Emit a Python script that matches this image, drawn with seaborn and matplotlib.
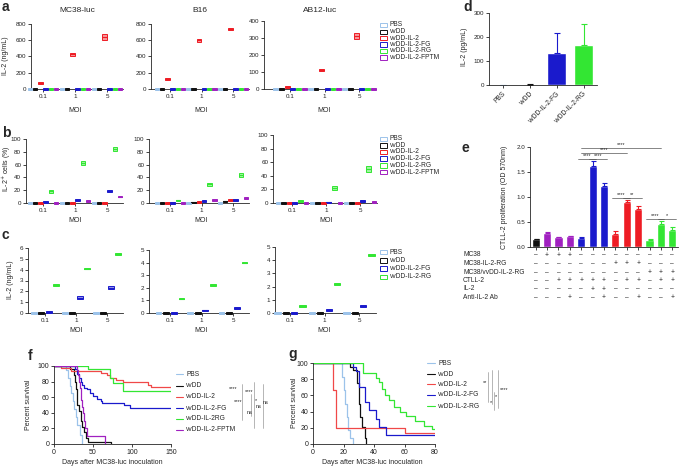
import numpy as np
import pandas as pd
import matplotlib
matplotlib.use("Agg")
import matplotlib.pyplot as plt
import matplotlib.transforms as mtransforms
from matplotlib.lines import Line2D
from matplotlib.patches import Rectangle
from matplotlib.colors import to_rgb
import seaborn as sns

W, H = 680, 466

# ---------------- data ----------------
moi = ["0.1", "1", "5"]
groups_ab = ["PBS", "vvDD", "vvDD-IL-2", "vvDD-IL-2-FG", "vvDD-IL-2-RG", "vvDD-IL-2-FPTM"]
groups_c = ["PBS", "vvDD", "vvDD-IL-2-FG", "vvDD-IL-2-RG"]

colors = {
    "PBS": "#9cc3ea",
    "vvDD": "#111111",
    "vvDD-IL-2": "#ee1c24",
    "vvDD-IL-2-FG": "#1a1acc",
    "vvDD-IL-2-RG": "#33e633",
    "vvDD-IL-2-FPTM": "#a020c0",
}

# panel a: IL-2 (ng/mL), rows = groups_ab, cols = moi
a_mc38 = [[1, 1, 1], [1, 1, 1], [78, 428, 640], [1, 1, 1], [2, 3, 4], [1, 1, 1]]
a_mc38_sd = [[0, 0, 0], [0, 0, 0], [8, 18, 35], [0, 0, 0], [0, 0, 0], [0, 0, 0]]
a_b16 = [[1, 1, 1], [1, 1, 1], [122, 598, 735], [1, 1, 1], [2, 3, 3], [1, 1, 1]]
a_b16_sd = [[0, 0, 0], [0, 0, 0], [10, 22, 15], [0, 0, 0], [0, 0, 0], [0, 0, 0]]
a_ab12 = [[0.5, 0.5, 0.5], [0.5, 0.5, 0.5], [10, 110, 312], [0.5, 0.5, 0.5], [1, 2, 2], [0.5, 0.5, 0.5]]
a_ab12_sd = [[0, 0, 0], [0, 0, 0], [3, 5, 15], [0, 0, 0], [0, 0, 0], [0, 0, 0]]

# panel b: IL-2+ cells (%)
b_mc38 = [[0.2, 0.2, 0.2], [0.2, 0.2, 0.3], [0.3, 0.3, 0.4], [1, 5, 19], [18, 62, 85], [0.5, 3.5, 10]]
b_mc38_sd = [[0, 0, 0], [0, 0, 0], [0, 0, 0], [0.6, 0.6, 0.8], [2, 3, 3], [0.5, 0.6, 1]]
b_b16 = [[0.2, 0.2, 0.2], [0.2, 0.8, 2.5], [0.3, 1.2, 4.5], [0.5, 3, 5], [4, 29, 44], [0.5, 4.5, 8]]
b_b16_sd = [[0, 0, 0], [0, 0.5, 1], [0, 0.6, 1.5], [0.5, 0.6, 0.6], [1, 3, 3], [0.5, 0.6, 0.8]]
b_ab12 = [[0.2, 0.2, 0.2], [0.2, 0.2, 0.3], [0.2, 0.3, 0.3], [0.3, 0.8, 3], [3, 22, 50], [0.3, 0.5, 1]]
b_ab12_sd = [[0, 0, 0], [0, 0, 0], [0, 0, 0], [0, 0.4, 0.6], [1, 3, 4], [0, 0, 0.4]]

# panel c: IL-2 (ng/mL), rows = groups_c
c_mc38 = [[0.02, 0.02, 0.02], [0.03, 0.03, 0.03], [0.12, 1.42, 2.35], [2.55, 4.1, 5.45]]
c_mc38_sd = [[0, 0, 0], [0, 0, 0], [0.05, 0.12, 0.1], [0.04, 0.04, 0.04]]
c_b16 = [[0.02, 0.02, 0.02], [0.02, 0.02, 0.02], [0.02, 0.2, 0.38], [1.15, 2.2, 4.0]]
c_b16_sd = [[0, 0, 0], [0, 0, 0], [0, 0.07, 0.04], [0.05, 0.07, 0.05]]
c_ab12 = [[0.02, 0.02, 0.02], [0.02, 0.02, 0.02], [0.02, 0.22, 0.55], [0.5, 2.2, 4.4]]
c_ab12_sd = [[0, 0, 0], [0, 0, 0], [0, 0.05, 0.08], [0.05, 0.04, 0.05]]

# panel d
d_groups = ["PBS", "vvDD", "vvDD-IL-2-FG", "vvDD-IL-2-RG"]
d_mean = [1, 2, 135, 168]
d_sd = [0.5, 0.5, 80, 88]

# panel e
e_mean = [0.16, 0.29, 0.20, 0.22, 0.19, 1.63, 1.22, 0.27, 0.91, 0.76, 0.15, 0.47, 0.35]
e_sd = [0.01, 0.02, 0.01, 0.01, 0.01, 0.10, 0.06, 0.06, 0.04, 0.06, 0.01, 0.06, 0.06]
e_color_keys = ["vvDD", "vvDD-IL-2-FPTM", "vvDD-IL-2-FPTM", "vvDD-IL-2-FPTM",
                "vvDD-IL-2-FG", "vvDD-IL-2-FG", "vvDD-IL-2-FG",
                "vvDD-IL-2", "vvDD-IL-2", "vvDD-IL-2",
                "vvDD-IL-2-RG", "vvDD-IL-2-RG", "vvDD-IL-2-RG"]
e_rows = ["MC38", "MC38-IL-2-RG", "MC38/vvDD-IL-2-RG", "CTLL-2", "IL-2", "Anti-IL-2 Ab"]
e_signs = ["-+++---------", "-------+++---", "----------+++",
           "--+++++-++-++", "-----++------", "---+--+--+--+"]
# (bar from, bar to, line height, label)
e_sig = [(4, 11, 1.99, "****"), (4, 8, 1.89, "****"), (4, 5, 1.77, "****"), (5, 6, 1.77, "****"),
         (7, 8, 0.99, "****"), (8, 9, 0.99, "**"), (10, 11, 0.56, "****"), (11, 12, 0.56, "*")]

# panel f survival (step change points)
f_groups = ["PBS", "vvDD", "vvDD-IL-2", "vvDD-IL-2-FG", "vvDD-IL-2RG", "vvDD-IL-2-FPTM"]
f_pbs_day = [0, 16, 18, 20, 22, 24, 26, 28, 30, 33, 36]
f_pbs_pct = [100, 95, 85, 75, 65, 55, 45, 35, 25, 12, 0]
f_vvdd_day = [0, 21, 25, 27, 28, 29, 30, 32, 34, 36, 38, 41, 44, 73]
f_vvdd_pct = [100, 96, 88, 80, 70, 60, 50, 42, 30, 22, 15, 8, 3, 0]
f_il2_day = [0, 9, 22, 60, 68, 72, 80, 88, 120, 124, 150]
f_il2_pct = [100, 97, 94, 91, 88, 85, 82, 79, 76, 73, 73]
f_fg_day = [0, 27, 30, 32, 34, 36, 39, 42, 46, 50, 55, 60, 62, 90, 98, 150]
f_fg_pct = [100, 96, 90, 85, 80, 76, 72, 70, 66, 62, 58, 55, 53, 50, 46, 46]
f_rg_day = [0, 44, 72, 76, 88, 150]
f_rg_pct = [100, 96, 84, 78, 68, 68]
f_fptm_day = [0, 29, 31, 32, 33, 34, 35, 36, 37, 38, 40, 42, 66]
f_fptm_pct = [100, 95, 88, 80, 72, 64, 56, 48, 40, 30, 20, 10, 0]

# panel g survival
g_groups = ["PBS", "vvDD", "vvDD-IL-2", "vvDD-IL-2-FG", "vvDD-IL-2-RG"]
g_pbs_day = [0, 19, 20, 21, 22, 23, 24, 26]
g_pbs_pct = [100, 83, 67, 50, 33, 17, 8, 0]
g_vvdd_day = [0, 24, 26, 29, 30, 31, 32, 34, 35]
g_vvdd_pct = [100, 95, 91, 75, 50, 33, 21, 8, 0]
g_il2_day = [0, 13, 15, 60, 80]
g_il2_pct = [100, 67, 20, 14, 14]
g_fg_day = [0, 26, 28, 30, 34, 37, 41, 43, 48, 80]
g_fg_pct = [100, 95, 90, 70, 52, 42, 31, 21, 11, 11]
g_rg_day = [0, 33, 41, 43, 45, 47, 50, 53, 57, 61, 67, 73, 78, 80]
g_rg_pct = [100, 88, 82, 76, 68, 60, 54, 46, 40, 35, 28, 22, 18, 18]

# ---------------- figure ----------------
sns.set_theme(style="ticks")
plt.rcParams["font.family"] = ["Liberation Sans", "DejaVu Sans"]
plt.rcParams["axes.linewidth"] = 0.6

fig = plt.figure(figsize=(W / 100, H / 100), dpi=100)


def px_axes(left, top, right, bottom):
    return fig.add_axes([left / W, 1 - bottom / H, (right - left) / W, (bottom - top) / H])


def ftext(x, y, s, **kw):
    return fig.text(x / W, 1 - y / H, s, **kw)


def style(ax, fs=4.5):
    sns.despine(ax=ax)
    ax.tick_params(length=2, width=0.6, labelsize=fs, pad=1.5, colors="#222222")
    ax.set_xlabel("")
    ax.set_ylabel("")


def light(c, f=0.55):
    r, g, b = to_rgb(c)
    return (r + (1 - r) * f, g + (1 - g) * f, b + (1 - b) * f)


def cat_axes(axis_x, tick0, spacing, top, bottom, ymax, ystep):
    ax = px_axes(axis_x, top, tick0 + 2.5 * spacing, bottom)
    ax.set_xlim(-(tick0 - axis_x) / spacing, 2.5)
    ax.set_ylim(0, ymax)
    ax.set_yticks(np.arange(0, ymax + ystep / 2, ystep))
    ax.set_xticks(range(len(moi)))
    ax.set_xticklabels(moi)
    style(ax)
    return ax


def draw_boxes(ax, means, sds, names, width, step, ymax):
    n = len(names)
    for j, name in enumerate(names):
        off = (j - (n - 1) / 2) * step
        for i in range(len(moi)):
            m = means[j][i]
            s = max(sds[j][i], 0.014 * ymax)
            x = i + off
            ax.bar(x, 2 * s, bottom=m - s, width=width, color=light(colors[name]),
                   edgecolor=colors[name], linewidth=0.7, clip_on=False, zorder=3)
            ax.plot([x - width / 2, x + width / 2], [m, m], color=colors[name],
                    lw=0.8, clip_on=False, zorder=4)


def box_legend(x, ys, names):
    for y, name in zip(ys, names):
        fig.add_artist(Rectangle((x / W, 1 - (y + 2.2) / H), 6.5 / W, 4.4 / H,
                                 transform=fig.transFigure, fill=False,
                                 edgecolor=colors[name], lw=0.7))
        ftext(x + 10, y, name, fontsize=4.8, va="center")


def line_legend(x1, x2, ys, names, cols):
    for y, name, c in zip(ys, names, cols):
        fig.add_artist(Line2D([x1 / W, x2 / W], [1 - y / H] * 2, color=c, lw=0.8,
                              transform=fig.transFigure))
        ftext(x2 + 3, y, name, fontsize=4.8, va="center")


# ---- rows a, b, c ----
row_a = [(a_mc38, a_mc38_sd, (31, 43, 32, 24, 89, 800, 200)),
         (a_b16, a_b16_sd, (151, 170, 31.5, 24, 89, 800, 200)),
         (a_ab12, a_ab12_sd, (264, 290, 34.5, 21, 89, 400, 100))]
row_b = [(b_mc38, b_mc38_sd, (26, 43, 32, 139, 203, 100, 20)),
         (b_b16, b_b16_sd, (149, 170, 31.5, 139, 203, 100, 20)),
         (b_ab12, b_ab12_sd, (273, 292, 34, 135, 203, 100, 20))]
row_c = [(c_mc38, c_mc38_sd, (28, 45, 31, 248, 313, 6, 1)),
         (c_b16, c_b16_sd, (149, 170, 31.5, 250, 313, 5, 1)),
         (c_ab12, c_ab12_sd, (275, 290, 34.5, 247, 313, 5, 1))]
titles = ["MC38-luc", "B16", "AB12-luc"]

for rows, names, width, step, xl_y in [(row_a, groups_ab, 0.14, 0.165, 110),
                                       (row_b, groups_ab, 0.14, 0.165, 220),
                                       (row_c, groups_c, 0.18, 0.24, 330)]:
    for k, (means, sds, geom) in enumerate(rows):
        axis_x, tick0, spacing, top, bottom, ymax, ystep = geom
        ax = cat_axes(axis_x, tick0, spacing, top, bottom, ymax, ystep)
        draw_boxes(ax, means, sds, names, width, step, ymax)
        ftext(tick0 + spacing, xl_y, "MOI", fontsize=5, ha="center", va="center")
        if rows is row_a:
            ftext((axis_x + tick0 + 2.5 * spacing) / 2, 11, titles[k], fontsize=6,
                  ha="center", va="center")

ftext(6, 56, "IL-2 (ng/mL)", fontsize=5, rotation=90, ha="center", va="center")
ftext(7, 169, "IL-2$^{+}$ cells (%)", fontsize=5, rotation=90, ha="center", va="center")
ftext(11, 280, "IL-2 (ng/mL)", fontsize=5, rotation=90, ha="center", va="center")

box_legend(380, [25, 31.7, 38, 44.3, 51, 57.3], groups_ab)
box_legend(380, [139, 145.7, 152, 158.7, 165.3, 172], groups_ab)
box_legend(380, [252, 260.5, 268.5, 277], groups_c)

# ---- panel d ----
ax_d = px_axes(489, 13, 597, 85)
sns.barplot(x=d_groups, y=d_mean, hue=d_groups, palette=colors, legend=False,
            width=0.74, saturation=1, errorbar=None, ax=ax_d)
for i, (m, s) in enumerate(zip(d_mean, d_sd)):
    ax_d.errorbar(i, m, yerr=[[0], [s]], fmt="none", ecolor=colors[d_groups[i]],
                  elinewidth=0.8, capsize=2.5, capthick=0.8)
ax_d.set_ylim(0, 300)
ax_d.set_yticks([0, 100, 200, 300])
ax_d.set_xlim(-0.5, 3.5)
style(ax_d)
ax_d.set_xticks(range(4))
ax_d.set_xticklabels(d_groups, rotation=45, ha="right", rotation_mode="anchor", fontsize=4.8)
ftext(464, 47, "IL-2 (pg/mL)", fontsize=5, rotation=90, ha="center", va="center")

# ---- panel e ----
ax_e = px_axes(530, 147, 678, 247)
e_x = [str(i + 1) for i in range(len(e_mean))]
sns.barplot(x=e_x, y=e_mean, hue=e_x, palette=[colors[k] for k in e_color_keys],
            legend=False, width=0.72, saturation=1, errorbar=None, ax=ax_e)
for i, (m, s) in enumerate(zip(e_mean, e_sd)):
    ax_e.errorbar(i, m, yerr=[[0], [s]], fmt="none", ecolor=colors[e_color_keys[i]],
                  elinewidth=0.8, capsize=1.8, capthick=0.8)
ax_e.set_ylim(0, 2.0)
ax_e.set_yticks([0, 0.5, 1.0, 1.5, 2.0])
ax_e.set_yticklabels(["0.0", "0.5", "1.0", "1.5", "2.0"])
ax_e.set_xlim(-0.5, len(e_mean) - 0.5)
style(ax_e)
ax_e.tick_params(axis="x", labelbottom=False)
for x1, x2, yl, lab in e_sig:
    ax_e.plot([x1 - 0.3, x2 + 0.3] if x2 - x1 == 1 else [x1, x2], [yl, yl],
              color="#555555", lw=0.5, clip_on=False)
    ax_e.text((x1 + x2) / 2, yl + 0.01, lab, fontsize=4, ha="center", va="bottom")
ftext(504, 197, "CTLL-2 proliferation (OD 570nm)", fontsize=5, rotation=90,
      ha="center", va="center")
blend = mtransforms.blended_transform_factory(ax_e.transData, fig.transFigure)
for y, lab, signs in zip([255, 263.3, 272.3, 280.7, 289, 297.3], e_rows, e_signs):
    ftext(463, y, lab, fontsize=4.8, va="center")
    for k, ch in enumerate(signs):
        ax_e.text(k, 1 - y / H, "+" if ch == "+" else "\u2013", transform=blend,
                  fontsize=4.8, ha="center", va="center")

# ---- panels f, g ----
f_data = [(f_pbs_day, f_pbs_pct), (f_vvdd_day, f_vvdd_pct), (f_il2_day, f_il2_pct),
          (f_fg_day, f_fg_pct), (f_rg_day, f_rg_pct), (f_fptm_day, f_fptm_pct)]
f_cols = [colors["PBS"], colors["vvDD"], "#f04848", colors["vvDD-IL-2-FG"],
          colors["vvDD-IL-2-RG"], colors["vvDD-IL-2-FPTM"]]
g_data = [(g_pbs_day, g_pbs_pct), (g_vvdd_day, g_vvdd_pct), (g_il2_day, g_il2_pct),
          (g_fg_day, g_fg_pct), (g_rg_day, g_rg_pct)]
g_cols = f_cols[:5]


def survival(ax, data, names, cols, xmax, xstep):
    df = pd.concat([pd.DataFrame({"day": d, "pct": p, "group": n})
                    for (d, p), n in zip(data, names)])
    sns.lineplot(data=df, x="day", y="pct", hue="group", palette=dict(zip(names, cols)),
                 drawstyle="steps-post", estimator=None, sort=False, legend=False,
                 linewidth=0.9, ax=ax)
    ax.set_xlim(0, xmax)
    ax.set_ylim(0, 100)
    ax.set_xticks(np.arange(0, xmax + 1, xstep))
    ax.set_yticks(np.arange(0, 101, 20))
    style(ax, fs=5)


ax_f = px_axes(54, 366, 171, 444)
survival(ax_f, f_data, f_groups, f_cols, 150, 50)
ftext(29, 405, "Percent survival", fontsize=5, rotation=90, ha="center", va="center")
ftext(112, 463, "Days after MC38-luc inoculation", fontsize=5, ha="center", va="center")
line_legend(176, 183, [374, 385.7, 397, 408, 419, 429.5], f_groups, f_cols)
for x, y1, y2 in [(242, 384, 420), (251, 394, 416), (254, 382, 428), (263, 384, 428)]:
    fig.add_artist(Line2D([x / W] * 2, [1 - y1 / H, 1 - y2 / H], color="#999999",
                          lw=0.5, transform=fig.transFigure))
for s, x, y in [("****", 233, 389), ("****", 249, 392), ("****", 238, 402), ("*", 256, 401),
                ("ns", 250, 412), ("ns", 259, 407), ("ns", 266, 402)]:
    ftext(x, y, s, fontsize=4, ha="center", va="center")

ax_g = px_axes(313, 363, 435, 444)
survival(ax_g, g_data, g_groups, g_cols, 80, 20)
ftext(295, 403, "Percent survival", fontsize=5, rotation=90, ha="center", va="center")
ftext(372, 463, "Days after MC38-luc inoculation", fontsize=5, ha="center", va="center")
line_legend(427, 435, [363.3, 374, 384.3, 395, 406], g_groups, g_cols)
for x, y1, y2 in [(488, 372, 402), (492, 370, 404), (494, 392, 410), (498, 370, 408)]:
    fig.add_artist(Line2D([x / W] * 2, [1 - y1 / H, 1 - y2 / H], color="#999999",
                          lw=0.5, transform=fig.transFigure))
for s, x, y in [("**", 485, 383), ("*", 491, 403), ("*", 496, 397), ("****", 504, 390)]:
    ftext(x, y, s, fontsize=4, ha="center", va="center")

# ---- panel letters ----
for lab, x, y in [("a", 2, 11), ("b", 2, 137), ("c", 2, 239), ("d", 463, 11),
                  ("e", 462, 152), ("f", 28, 360), ("g", 288, 358)]:
    ftext(x, y, lab, fontsize=10, fontweight="bold", va="baseline")

fig.savefig("out.png", dpi=100)
